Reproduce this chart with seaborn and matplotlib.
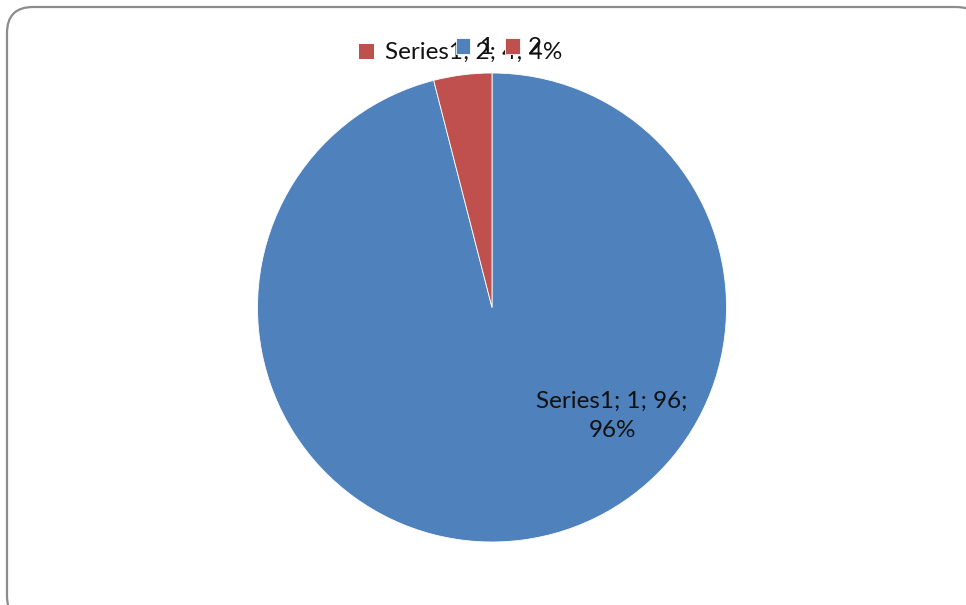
import matplotlib
matplotlib.use("Agg")
import matplotlib.pyplot as plt
from matplotlib.patches import FancyBboxPatch, Rectangle
import seaborn as sns

# Chart data
series_name = "Series1"
categories = ["1", "2"]
values = [96, 4]
colors = ["#4F81BD", "#C0504D"]

sns.set_theme(style="white")
plt.rcParams["font.family"] = ["Lato", "DejaVu Sans"]

W, H, DPI = 966, 605, 100
FS = 17.5
fig = plt.figure(figsize=(W / DPI, H / DPI), dpi=DPI)
fig.patch.set_facecolor("white")

# Background layer in pixel units for the rounded chart frame
bg = fig.add_axes([0, 0, 1, 1])
bg.set_xlim(0, W)
bg.set_ylim(H, 0)
bg.axis("off")
frame = FancyBboxPatch((7, 7), 975, 615, boxstyle="round,pad=0,rounding_size=26",
                       facecolor="white", edgecolor="#8c8c8c", linewidth=1.6)
bg.add_patch(frame)

# Pie area
cx, cy, r = 492, 307.5, 234.5
ax = fig.add_axes([(cx - r) / W, (H - cy - r) / H, 2 * r / W, 2 * r / H])
wedges, _ = ax.pie(values, colors=colors, startangle=90, counterclock=False,
                   radius=1.0, wedgeprops=dict(edgecolor="white", linewidth=0.6))
ax.set_xlim(-1, 1)
ax.set_ylim(-1, 1)
ax.set_aspect("equal")
ax.axis("off")

# Overlay layer (pixel units) for labels drawn above the pie
top = fig.add_axes([0, 0, 1, 1])
top.set_xlim(0, W)
top.set_ylim(H, 0)
top.axis("off")
top.patch.set_alpha(0)

total = sum(values)
pcts = [round(v / total * 100) for v in values]

# Data label for the large slice
top.text(612, 416, f"{series_name}; {categories[0]}; {values[0]};\n{pcts[0]}%",
         ha="center", va="center", fontsize=FS, color="#111111", linespacing=1.5)

# Data label for the small slice, with its legend key, placed at the top
top.add_patch(Rectangle((359, 44), 15, 15, facecolor=colors[1], edgecolor="none"))
top.text(385, 52, f"{series_name}; {categories[1]}; {values[1]}; {pcts[1]}%",
         ha="left", va="center", fontsize=FS, color="#111111")

# Legend
leg = fig.legend(wedges, categories, loc="center", bbox_to_anchor=(499 / W, 1 - 48 / H),
                 ncol=2, frameon=False, fontsize=FS, handlelength=0.6, handleheight=0.6,
                 handletextpad=0.35, columnspacing=0.5, borderpad=0)
for t in leg.get_texts():
    t.set_color("#111111")

fig.savefig("out.png", dpi=DPI, facecolor="white")
